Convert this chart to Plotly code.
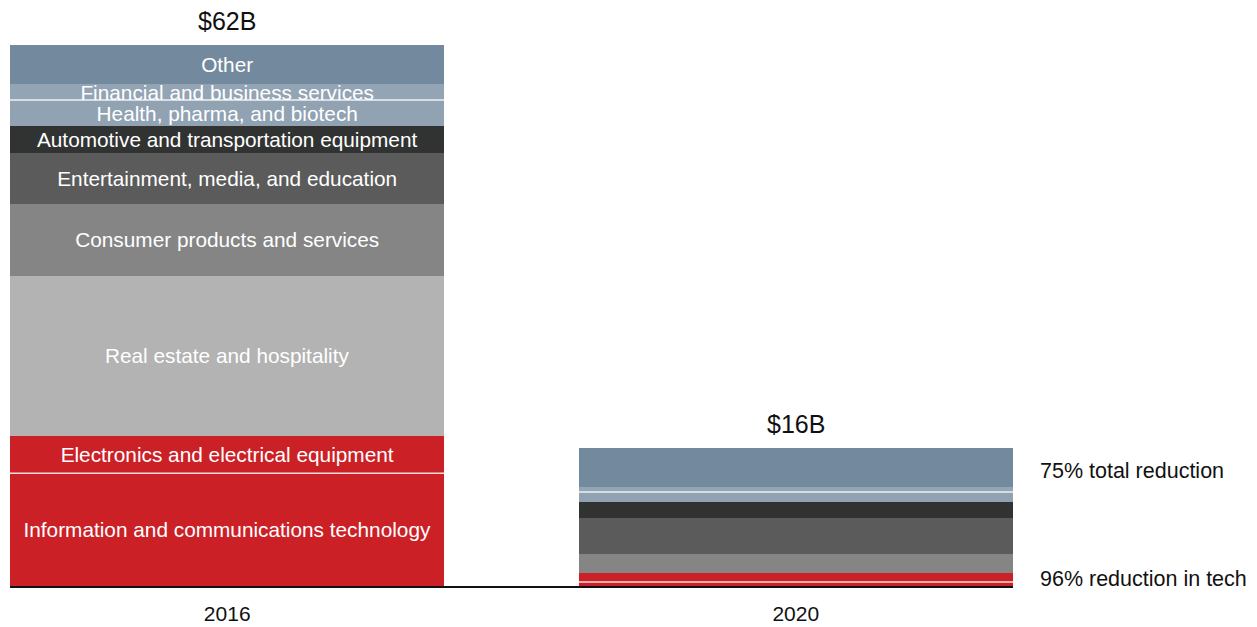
import plotly.graph_objects as go
import numpy as np

years = ["2016", "2020"]
sectors = [
    "Information and communications technology",
    "Electronics and electrical equipment",
    "Real estate and hospitality",
    "Consumer products and services",
    "Entertainment, media, and education",
    "Automotive and transportation equipment",
    "Health, pharma, and biotech",
    "Financial and business services",
    "Other",
]
values_2016 = [12.9, 4.3, 18.3, 8.2, 5.8, 3.1, 3.0, 1.8, 4.5]
values_2020 = [0.45, 1.0, 0.0, 2.2, 4.1, 1.9, 1.1, 0.6, 4.45]
totals = ["$62B", "$16B"]
notes = ["75% total reduction", "96% reduction in tech"]
note_y = [13.2, 0.75]

colors = ["#CC2027", "#CC2027", "#B3B3B3", "#858585", "#5B5B5B",
          "#313333", "#91A3B3", "#93A4B4", "#738A9E"]

FONT = "Arial, Liberation Sans, sans-serif"
BAR_W = 0.764

fig = go.Figure()
for name, v16, v20, col in zip(sectors, values_2016, values_2020, colors):
    fig.add_trace(go.Bar(
        x=years, y=[v16, v20], name=name,
        marker=dict(color=col, line=dict(width=0)),
        width=BAR_W,
        text=[name, ""], textposition="inside", insidetextanchor="middle",
        textangle=0, constraintext="none",
        textfont=dict(color="white", size=20.8, family=FONT),
        hoverinfo="name+y",
    ))

# white separator lines (top of ICT and top of Health segments)
cum16 = np.cumsum(values_2016)
cum20 = np.cumsum(values_2020)
shapes = []
for xi, cum in enumerate([cum16, cum20]):
    for idx in (0, 6):
        shapes.append(dict(type="line", xref="x", yref="y",
                           x0=xi - BAR_W / 2, x1=xi + BAR_W / 2,
                           y0=float(cum[idx]), y1=float(cum[idx]),
                           line=dict(color="rgba(255,255,255,0.85)", width=1.5)))

annotations = []
for xi, (tot, cum) in enumerate(zip(totals, [cum16, cum20])):
    annotations.append(dict(x=xi, y=float(cum[-1]), xref="x", yref="y",
                            text=tot.replace("$", "&#36;"),
                            showarrow=False, yanchor="bottom", yshift=8,
                            font=dict(size=25, color="#111111", family=FONT)))
for txt, yy in zip(notes, note_y):
    annotations.append(dict(x=1.025, y=yy, xref="paper", yref="y", text=txt,
                            showarrow=False, xanchor="left", yanchor="middle",
                            font=dict(size=21.5, color="#111111", family=FONT)))

fig.update_layout(
    barmode="stack",
    width=1249, height=619,
    margin=dict(l=2, r=244, t=36, b=35),
    paper_bgcolor="white", plot_bgcolor="white",
    showlegend=False,
    shapes=shapes, annotations=annotations,
    font=dict(family=FONT, color="#111111"),
    xaxis=dict(type="category", range=[-BAR_W / 2, 1 + BAR_W / 2],
               showline=True, linecolor="#111111", linewidth=2,
               showgrid=False, zeroline=False, ticks="",
               ticklabelstandoff=8,
               tickfont=dict(size=21, color="#111111", family=FONT)),
    yaxis=dict(range=[0, 62], showticklabels=False, showgrid=False,
               zeroline=False, showline=False),
)

fig.write_html("out.html")
